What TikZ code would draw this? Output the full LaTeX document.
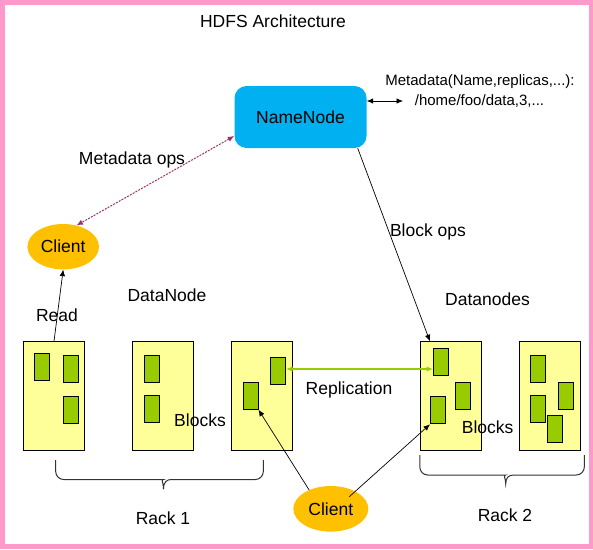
\documentclass[tikz,border=0pt]{standalone}
\usepackage{fontspec}
\setmainfont{Liberation Sans}
\usetikzlibrary{shapes.geometric,arrows.meta}
\definecolor{pinkframe}{HTML}{FF99CC}
\definecolor{nncyan}{HTML}{00B0F0}
\definecolor{clientorange}{HTML}{FFC000}
\definecolor{boxyellow}{HTML}{FFFF99}
\definecolor{blockgreen}{HTML}{99CC00}
\definecolor{metapurple}{HTML}{993366}
\begin{document}
\begin{tikzpicture}[x=1pt,y=-1pt,
  lbl/.style={font=\fontsize{17.5}{20}\selectfont, inner sep=0pt, text height=12.5pt, text depth=0pt},
  smalllbl/.style={font=\fontsize{15}{18}\selectfont, inner sep=0pt, text height=10.7pt, text depth=0pt},
  dnbox/.style={draw=black, line width=1pt, fill=boxyellow, minimum width=61pt, minimum height=108.6pt, inner sep=0pt},
  blk/.style={draw=black, line width=1pt, fill=blockgreen, minimum width=15pt, minimum height=27pt, inner sep=0pt},
  clientnode/.style={ellipse, fill=clientorange, inner sep=0pt, font=\fontsize{17.5}{20}\selectfont, text height=12.5pt, text depth=0pt},
  tipend/.style={-{Latex[length=6.5pt,width=5.5pt]}},
  tipboth/.style={{Latex[length=6.5pt,width=5.5pt]}-{Latex[length=6.5pt,width=5.5pt]}},
  conn/.style={line width=0.7pt, draw=black},
  bracestyle/.style={line width=1pt, draw=black!80}]
\useasboundingbox (0,0) rectangle (593,549);
\draw[pinkframe, line width=5pt] (2.5,2.5) rectangle (591,546.5);

% title
\node[lbl] (title) at (273,21.7) {HDFS Architecture};

% NameNode
\node[draw=none, fill=nncyan, rounded corners=12pt, minimum width=132pt, minimum height=62pt, inner sep=0pt,
      font=\fontsize{17.5}{20}\selectfont, text height=12.5pt, text depth=0pt] (nn) at (300.5,117) {NameNode};

% metadata text
\node[smalllbl] (meta1) at (480,80) {Metadata(Name,replicas,...):};
\node[smalllbl] (meta2) at (479.5,100) {/home/foo/data,3,...};
\coordinate (ma) at (403,101);
\draw[conn, tipboth] (nn.east |- ma) -- (ma);

% clients
\node[clientnode, minimum width=71.6pt, minimum height=45.4pt] (client1) at (63.2,246.7) {Client};
\node[clientnode, minimum width=75pt, minimum height=45.6pt] (client2) at (330.8,508.8) {Client};

% metadata ops
\node[lbl] (mops) at (132,158) {Metadata ops};
\draw[metapurple, line width=1pt, dash pattern=on 2pt off 1.2pt, tipboth] ([yshift=-19pt]nn.west) -- (client1.58);

% datanode boxes
\node[dnbox] (b1) at (54,396) {};
\node[dnbox] (b2) at (163.3,396) {};
\node[dnbox] (b3) at (262.4,396) {};
\node[dnbox] (b4) at (450.5,396) {};
\node[dnbox] (b5) at (550,396) {};

% blocks
\node[blk] (b1a) at (41.9,367) {};
\node[blk] (b1b) at (70.9,369) {};
\node[blk] (b1c) at (70.9,410.3) {};
\node[blk] (b2a) at (151.5,369) {};
\node[blk] (b2b) at (151.5,408.7) {};
\node[blk] (b3a) at (278,370.7) {};
\node[blk] (b3b) at (250.5,395.7) {};
\node[blk] (b4a) at (441,362.3) {};
\node[blk] (b4b) at (463,395.7) {};
\node[blk] (b4c) at (438,410.3) {};
\node[blk] (b5a) at (537.9,369) {};
\node[blk] (b5b) at (565.8,395.7) {};
\node[blk] (b5c) at (537.9,408.7) {};
\node[blk] (b5d) at (555.3,428.7) {};

% labels
\node[lbl] (readl) at (57,315) {Read};
\node[lbl] (dnl) at (167,295) {DataNode};
\node[lbl] (dnsl) at (487.5,299) {Datanodes};
\node[lbl] (bopsl) at (428,230) {Block ops};
\node[lbl] (repl) at (349,388.3) {Replication};
\node[lbl] (blk1l) at (200,420) {Blocks};
\node[lbl] (blk2l) at (487.7,427.7) {Blocks};
\node[lbl] (rack1l) at (163,518) {Rack 1};
\node[lbl] (rack2l) at (505,515) {Rack 2};

% connectors
\draw[conn, tipend] (b1.north) -- (client1.south);
\draw[conn, tipend] ([xshift=-9pt]nn.south east) -- ([xshift=10.4pt]b4.north west);
\draw[blockgreen, line width=1.3pt, tipboth] ([yshift=1.7pt]b3a.east) -- ([yshift=1.7pt]b3a.east -| b4a.west);
\draw[conn, tipend] (client2.139) -- (b3b.south east);
\draw[conn, tipend] ([shift={(18.5,-12.1)}]client2.center) -- (b4c.south west);

% braces
\draw[bracestyle, rounded corners=8pt] (55.7,460) -- (55.7,479.5) -- (155.5,479.5) [sharp corners]
  .. controls (160.5,479.5) and (163.5,482) .. (163.5,489.3)
  .. controls (163.5,482) and (166.5,479.5) .. (171.5,479.5) [rounded corners=8pt]
  -- (263.3,479.5) -- (263.3,460);
\draw[bracestyle, rounded corners=8pt] (419.8,455) -- (419.8,475) -- (497.7,475) [sharp corners]
  .. controls (502.7,475) and (505.7,477.5) .. (505.7,484)
  .. controls (505.7,477.5) and (508.7,475) .. (513.7,475) [rounded corners=8pt]
  -- (584.3,475) -- (584.3,455);
\end{tikzpicture}
\end{document}
